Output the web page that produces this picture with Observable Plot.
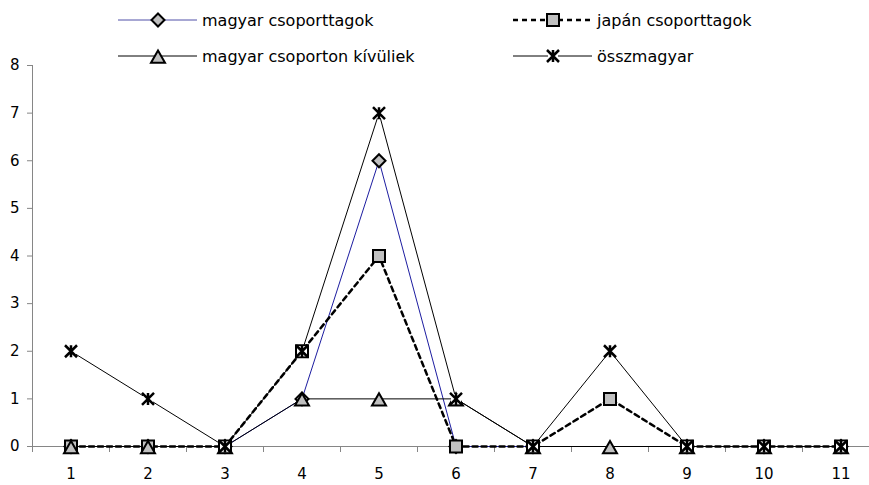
<!DOCTYPE html>
<html>
<head>
<meta charset="utf-8">
<script src="https://cdn.jsdelivr.net/npm/d3@7"></script>
<script src="https://cdn.jsdelivr.net/npm/@observablehq/plot@0.6"></script>
<style>
  body { margin: 0; background: white; }
  #wrap { position: relative; width: 869px; height: 485px; font-family: Tahoma, "DejaVu Sans", sans-serif; }
  #legend { position: absolute; left: 0; top: 0; }
</style>
</head>
<body>
<div id="wrap"></div>
<script>
// ---- data ----
const categories = [1, 2, 3, 4, 5, 6, 7, 8, 9, 10, 11];
const magyarCsoporttagok = [0, 0, 0, 1, 6, 0, 0, null, 0, 0, 0];
const japanCsoporttagok = [0, 0, 0, 2, 4, 0, 0, 1, 0, 0, 0];
const magyarKivuliek = [0, 0, 0, 1, 1, 1, 0, 0, 0, 0, 0];
const osszmagyar = [2, 1, 0, 2, 7, 1, 0, 2, 0, 0, 0];
const seriesNames = ["magyar csoporttagok", "japán csoporttagok", "magyar csoporton kívüliek", "összmagyar"];
const yTicks = [0, 1, 2, 3, 4, 5, 6, 7, 8];

const FONT = 'Tahoma, "DejaVu Sans", sans-serif';
const GRAY = "#c0c0c0";
const AXIS = "#868686";

// ---- custom marker symbols (r = half extent) ----
const rr = (size) => Math.sqrt(size / Math.PI);
const diamondSym = { draw(c, s) { const r = rr(s); c.moveTo(0, -r); c.lineTo(r, 0); c.lineTo(0, r); c.lineTo(-r, 0); c.closePath(); } };
const squareSym = { draw(c, s) { const r = rr(s); c.moveTo(-r, -r); c.lineTo(r, -r); c.lineTo(r, r); c.lineTo(-r, r); c.closePath(); } };
const triangleSym = { draw(c, s) { const r = rr(s); c.moveTo(0, -r * 0.8); c.lineTo(r, r * 0.95); c.lineTo(-r, r * 0.95); c.closePath(); } };
const starSym = { draw(c, s) { const r = rr(s); c.moveTo(-r, -r); c.lineTo(r, r); c.moveTo(r, -r); c.lineTo(-r, r); c.moveTo(0, -r); c.lineTo(0, r); } };

const series = [
  { name: seriesNames[0], values: magyarCsoporttagok, stroke: "#1c1ca0", legendStroke: "#5050a8", width: 1, dash: null, symbol: diamondSym, r: 6.5, fill: GRAY },
  { name: seriesNames[1], values: japanCsoporttagok, stroke: "black", legendStroke: "black", width: 2.5, dash: "5 4", symbol: squareSym, r: 6, fill: GRAY },
  { name: seriesNames[2], values: magyarKivuliek, stroke: "black", legendStroke: "black", width: 1, dash: null, symbol: triangleSym, r: 7, fill: GRAY },
  { name: seriesNames[3], values: osszmagyar, stroke: "black", legendStroke: "black", width: 1, dash: null, symbol: starSym, r: 6, fill: "none" }
];
const rows = s => categories.map((c, i) => ({ x: c, y: s.values[i], name: s.name }));
const boundaries = categories.map(c => c - 0.5);

const marks = [
  Plot.frame({ anchor: "left", stroke: AXIS }),
  Plot.frame({ anchor: "bottom", stroke: AXIS }),
  Plot.axisY({ ticks: yTicks, tickSize: 5, tickPadding: 8, tickFormat: d => String(d), stroke: AXIS, fill: "black", label: null }),
  Plot.axisX({ ticks: boundaries, tickSize: 6, tickFormat: () => "", stroke: AXIS, label: null }),
  Plot.axisX({ ticks: categories, tickSize: 0, tickPadding: 22, tickFormat: d => String(d), fill: "black", label: null })
];
for (const s of series) {
  marks.push(Plot.line(rows(s), { x: "x", y: "y", stroke: s.stroke, strokeWidth: s.width, strokeDasharray: s.dash, curve: "linear" }));
}
for (const s of series) {
  const data = rows(s).filter(d => d.y != null);
  if (s.name === seriesNames[3]) {
    marks.push(Plot.dot(data, { x: "x", y: "y", symbol: squareSym, r: 5, fill: "white", stroke: "none" }));
    marks.push(Plot.dot(data, { x: "x", y: "y", symbol: starSym, r: s.r, fill: "none", stroke: "black", strokeWidth: 2.5 }));
  } else {
    marks.push(Plot.dot(data, { x: "x", y: "y", symbol: s.symbol, r: s.r, fill: s.fill, stroke: "black", strokeWidth: 2 }));
  }
}

const chart = Plot.plot({
  width: 869,
  height: 485,
  marginTop: 65,
  marginBottom: 39,
  marginLeft: 32,
  marginRight: 0,
  style: { fontFamily: FONT, fontSize: "15px", color: "black", background: "white" },
  x: { type: "linear", domain: [0.5, 11.5], range: [32, 879] },
  y: { domain: [0, 8] },
  marks
});
const wrap = document.getElementById("wrap");
wrap.appendChild(chart);

// ---- legend ----
const leg = d3.select(wrap).append("svg").attr("id", "legend").attr("width", 869).attr("height", 75)
  .style("font-family", FONT).style("font-size", "16px");
const cols = [118, 513];
const rowsY = [20, 56];
series.forEach((s, i) => {
  const x0 = cols[i % 2], y0 = rowsY[Math.floor(i / 2)];
  const g = leg.append("g").attr("transform", `translate(${x0},${y0})`);
  g.append("line").attr("x1", 0).attr("x2", 79).attr("y1", 0).attr("y2", 0)
    .attr("stroke", s.legendStroke).attr("stroke-width", s.width).attr("stroke-dasharray", s.dash);
  const mg = g.append("g").attr("transform", "translate(40,0)");
  const sym = d3.symbol().type(s.symbol).size(Math.PI * s.r * s.r);
  if (s.name === seriesNames[3]) {
    mg.append("path").attr("d", d3.symbol().type(squareSym).size(Math.PI * 25)()).attr("fill", "white");
    mg.append("path").attr("d", sym()).attr("fill", "none").attr("stroke", "black").attr("stroke-width", 2.5);
  } else {
    mg.append("path").attr("d", sym()).attr("fill", s.fill).attr("stroke", "black").attr("stroke-width", 2);
  }
  g.append("text").attr("x", 84).attr("y", 0).attr("dy", "0.35em").attr("fill", "black").text(s.name);
});
</script>
</body>
</html>
